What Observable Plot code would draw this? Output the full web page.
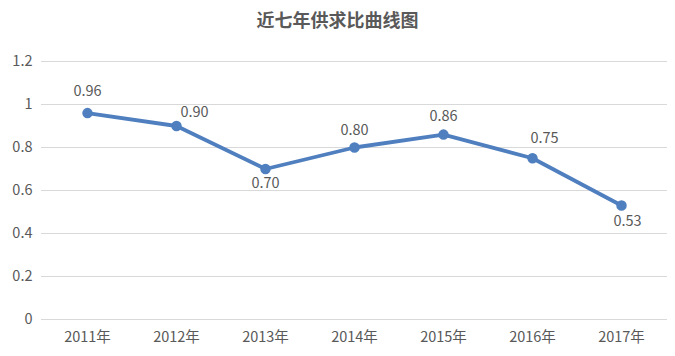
<!DOCTYPE html>
<html>
<head>
<meta charset="utf-8">
<script src="https://cdn.jsdelivr.net/npm/d3@7"></script>
<script src="https://cdn.jsdelivr.net/npm/@observablehq/plot@0.6"></script>
<style>
  html, body { margin: 0; padding: 0; background: #fff; }
  #wrap { width: 675px; height: 356px; position: relative; font-family: "Noto Sans CJK SC", "Noto Sans", sans-serif; }
  #title { height: 40px; line-height: 38px; text-align: center; font-size: 18px; font-weight: bold; color: #595959; }
</style>
</head>
<body>
<div id="wrap">
  <div id="title">近七年供求比曲线图</div>
  <div id="chart"></div>
</div>
<script>
const years = ["2011年", "2012年", "2013年", "2014年", "2015年", "2016年", "2017年"];
const ratios = [0.96, 0.90, 0.70, 0.80, 0.86, 0.75, 0.53];
const yTicks = [0, 0.2, 0.4, 0.6, 0.8, 1, 1.2];
const yTickLabels = ["0", "0.2", "0.4", "0.6", "0.8", "1", "1.2"];

const data = years.map((y, i) => ({year: y, value: ratios[i], label: ratios[i].toFixed(2)}));

// label offsets (dx, dy) per point, as in the reference
const labelOffsets = {
  "2011年": [0, -22], "2012年": [18, -14], "2013年": [0, 14], "2014年": [0, -17],
  "2015年": [0, -18], "2016年": [12, -20], "2017年": [6, 16]
};

const blue = "#4f7fbf";
const grey = "#595959";

const labelMarks = data.map(d => Plot.text([d], {
  x: "year", y: "value", text: "label",
  dx: labelOffsets[d.year][0], dy: labelOffsets[d.year][1],
  fill: grey, fontSize: 14.5
}));

const chart = Plot.plot({
  width: 675,
  height: 316,
  marginTop: 21,
  marginBottom: 37,
  marginLeft: 41,
  marginRight: 8,
  style: {fontFamily: "'Noto Sans CJK SC', 'Noto Sans', sans-serif", fontSize: "14.5px", color: grey, background: "#fff"},
  x: {type: "point", domain: years, padding: 0.5, label: null},
  y: {domain: [0, 1.2], label: null},
  marks: [
    Plot.ruleY(yTicks, {stroke: "#d9d9d9", strokeWidth: 1}),
    Plot.axisY({ticks: yTicks, tickFormat: (d) => yTickLabels[yTicks.indexOf(d)], tickSize: 0, tickPadding: 9, fontSize: 14.5, fill: grey, label: null}),
    Plot.axisX({tickSize: 0, tickPadding: 12, fontSize: 14.5, fill: grey, label: null}),
    Plot.line(data, {x: "year", y: "value", stroke: blue, strokeWidth: 3.8, strokeLinejoin: "round"}),
    Plot.dot(data, {x: "year", y: "value", r: 4.5, fill: blue, stroke: blue}),
    ...labelMarks
  ]
});
document.getElementById("chart").appendChild(chart);
</script>
</body>
</html>
